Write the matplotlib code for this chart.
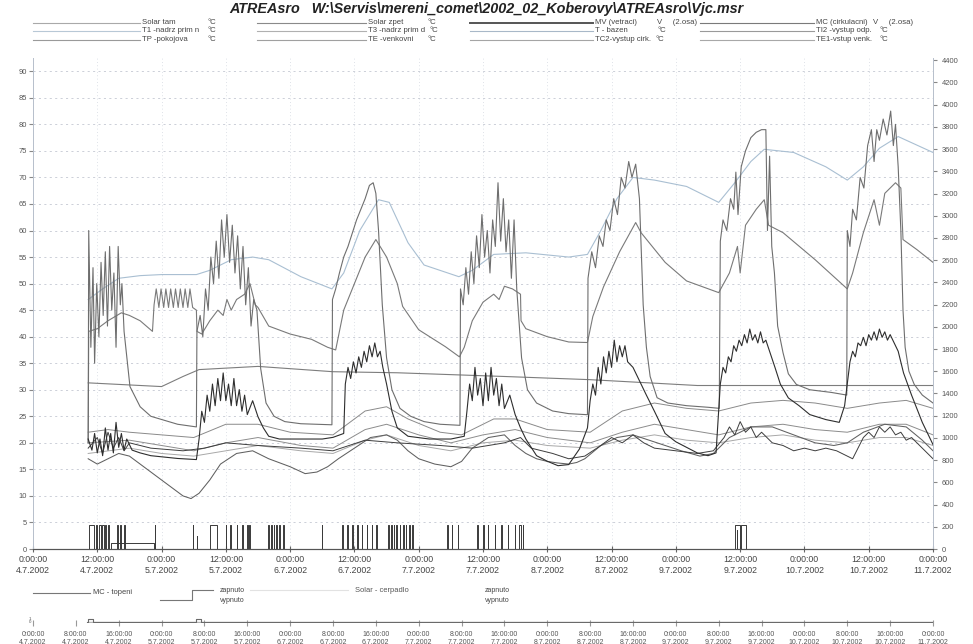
import matplotlib
matplotlib.use("Agg")
import matplotlib.pyplot as plt
from matplotlib.lines import Line2D

plt.rcParams['font.family'] = ['Liberation Sans', 'DejaVu Sans']

# hours since 4.7.2002 0:00
solar_tam = [(10.3, 20), (10.4, 60), (10.8, 38), (11.2, 53), (11.5, 35), (11.9, 50), (12.3, 40), (12.7, 54),
             (13.1, 44), (13.5, 56), (13.9, 42), (14.3, 57), (14.7, 45), (15.1, 52), (15.5, 38), (15.9, 57),
             (16.3, 46), (16.6, 50), (17.0, 41), (18.1, 30.6), (20.0, 26.8), (22.0, 25), (24.3, 24.3),
             (27.0, 23.5), (30.5, 23),
             (30.6, 41), (31.2, 44), (31.7, 40), (32.2, 49), (32.7, 45), (33.2, 55), (33.7, 50), (34.2, 58),
             (34.7, 51), (35.2, 62), (35.7, 55), (36.2, 63), (36.7, 54), (37.2, 61), (37.7, 52), (38.2, 59),
             (38.7, 49), (39.2, 57), (39.7, 46), (40.2, 53), (40.7, 42), (41.2, 47), (41.8, 45), (42.5, 34),
             (43.5, 27.5), (45.0, 25), (47.0, 24), (50.0, 23.6), (55.8, 23.4),
             (55.9, 47), (56.5, 49), (57.2, 52), (58.0, 55), (58.8, 57), (59.6, 59.5), (60.4, 62), (61.2, 64),
             (62.0, 66), (62.8, 68.5), (63.5, 69), (64.0, 67), (64.5, 60), (65.2, 46), (66.0, 36), (67.0, 30),
             (68.5, 26.5), (70.5, 25), (73.0, 24), (76.0, 23.5), (79.7, 23.3),
             (79.8, 49), (80.3, 46), (80.8, 53), (81.3, 48), (81.8, 56), (82.3, 50), (82.8, 59), (83.3, 53),
             (83.8, 63), (84.3, 55), (84.8, 60), (85.3, 52), (85.8, 62), (86.3, 57), (86.8, 69), (87.3, 58),
             (87.8, 66), (88.3, 56), (88.8, 62), (89.3, 51), (89.8, 62), (90.3, 49), (91.2, 36), (92.3, 30),
             (94.0, 27.5), (97.0, 26), (100.0, 25.5), (103.5, 25.3),
             (103.6, 51), (104.3, 56), (105.0, 53), (105.7, 59), (106.4, 57), (107.0, 62), (107.7, 60),
             (108.4, 66), (109.1, 63), (109.8, 70), (110.5, 68), (111.2, 73), (111.8, 70), (112.5, 72.5),
             (113.2, 66), (113.9, 46), (114.5, 38), (115.2, 32.5), (116.5, 28.5), (118.5, 27.5), (122.0, 27),
             (126.0, 26.7), (128.1, 26.5),
             (128.3, 58), (128.8, 62), (129.5, 60), (130.2, 66), (130.8, 64), (131.2, 71), (131.6, 63),
             (132.2, 72), (133.0, 75), (134.0, 77.5), (135.0, 78.5), (136.0, 79), (136.8, 79), (137.1, 60),
             (137.5, 74), (137.9, 57), (138.4, 52), (139.0, 42), (140.0, 37), (141.0, 33), (142.5, 31),
             (145.0, 30), (149.0, 29.5), (151.9, 29),
             (152.0, 60), (152.5, 57), (153.0, 64), (153.7, 62), (154.4, 70), (155.1, 68), (155.8, 76),
             (156.5, 79), (157.0, 73), (157.5, 79), (158.0, 77), (158.7, 81), (159.4, 78), (160.1, 82.5),
             (160.6, 76), (161.0, 80), (161.5, 72), (162.0, 60), (162.4, 45), (162.8, 38), (163.5, 33.5),
             (164.5, 31), (166.0, 29), (168.0, 27.5)]

nadrz_d = [(10.3, 20), (10.4, 41), (12.0, 41.5), (14.0, 43), (16.5, 44.5), (18.0, 44), (20.0, 43), (22.3, 41),
           (22.6, 46), (23.0, 49), (23.5, 45.5), (23.9, 49), (24.4, 45.5), (24.8, 49), (25.3, 45.5), (25.7, 49),
           (26.2, 45.5), (26.6, 49), (27.1, 45.5), (27.5, 49), (28.0, 45.5), (28.4, 49), (28.9, 45.5),
           (29.3, 49), (29.8, 45.5), (30.5, 45), (30.6, 41), (31.5, 40.5), (33.0, 43), (34.5, 45), (35.5, 44),
           (36.2, 47), (37.0, 45), (38.0, 47), (39.5, 48), (40.5, 50), (41.5, 46), (42.0, 45.5), (44.0, 42),
           (48.0, 40.5), (52.0, 39.5), (55.0, 38), (56.5, 37.5), (58.0, 45), (60.0, 50), (62.0, 55),
           (64.0, 58.3), (66.0, 55), (68.0, 50), (69.0, 45.7), (72.0, 41.3), (77.0, 38.1), (79.6, 36.2),
           (80.5, 38), (82.0, 43), (84.0, 46.5), (86.0, 48), (87.0, 47), (88.0, 49.5), (89.5, 49), (91.0, 48),
           (91.1, 43), (92.0, 41.5), (96.0, 40), (100.0, 39), (103.5, 38.9), (104.5, 43.8), (106.5, 49.4),
           (109.5, 56), (112.5, 61.5), (113.5, 59.6), (118.0, 54), (122.0, 50.5), (128.0, 48.3), (130.0, 52),
           (131.5, 57), (132.0, 52), (133.0, 61), (135.0, 64), (136.5, 65.8), (137.3, 61), (140.0, 59.6),
           (146.0, 54.5), (152.0, 49), (153.0, 52), (155.0, 59.6), (157.0, 65.8), (158.0, 61), (159.0, 67),
           (161.0, 69), (162.0, 68), (162.4, 58.3), (165.0, 56.4), (168.0, 54)]

nadrz_n = [(10.3, 47), (13, 49), (16, 51), (20, 51.5), (24, 51.7), (30.5, 51.7), (33, 52.5), (37, 54.5),
           (41, 55), (44, 54.5), (50, 51.3), (55.8, 49), (58, 52), (61, 60), (64.5, 65.8), (66.5, 65.3),
           (70, 57.7), (73, 53.5), (79.5, 51.3), (82, 52.5), (86, 55.5), (92, 55.8), (100, 55), (103.5, 55.5),
           (106, 60), (109, 66), (112, 70), (116, 69.5), (122, 68.3), (128, 65.3), (131, 69), (134, 73),
           (136.5, 75.3), (142, 74.7), (148, 72), (152, 69.5), (155, 72), (158, 75.5), (161.5, 77.7),
           (168, 74.7)]

bazen = [(10.3, 31.3), (24, 30.6), (28, 32.5), (31, 33.8), (42, 34.4), (56, 33.4), (68, 33.2), (88, 32.5),
         (104, 31.9), (124, 30.8), (168, 30.8)]

# MC (cirkulacni) in mV, 2nd axis
mc_cirk = [(10.3, 990), (11.0, 890), (11.5, 1040), (12.0, 865), (12.5, 990), (13.0, 840), (13.5, 1090),
           (14.0, 890), (14.5, 1040), (15.0, 865), (15.5, 1140), (16.0, 915), (16.5, 1040), (17.0, 890),
           (17.5, 990), (18.5, 890), (20.0, 865), (22.0, 840), (24.0, 830), (27.0, 815), (30.5, 805),
           (31.0, 990), (31.5, 1240), (32.0, 1140), (32.5, 1385), (33.0, 1240), (33.5, 1485), (34.0, 1290),
           (34.5, 1535), (35.0, 1335), (35.5, 1585), (36.0, 1335), (36.5, 1485), (37.0, 1290), (37.5, 1535),
           (38.0, 1290), (38.5, 1435), (39.0, 1240), (39.5, 1385), (40.0, 1210), (41.0, 1335), (42.0, 1190),
           (43.0, 1090), (44.0, 1015), (46.0, 990), (50.0, 990), (54.0, 990), (56.0, 1005), (58.0, 1040),
           (58.3, 1485), (58.8, 1635), (59.3, 1535), (59.8, 1685), (60.3, 1585), (60.8, 1730), (61.3, 1635),
           (61.8, 1780), (62.3, 1685), (62.8, 1830), (63.3, 1730), (63.8, 1855), (64.3, 1730), (64.8, 1780),
           (65.3, 1635), (66.0, 1485), (67.0, 1240), (68.0, 1090), (70.0, 1015), (74.0, 990), (78.0, 990),
           (80.5, 1015), (81.0, 1240), (81.5, 1485), (82.0, 1335), (82.5, 1635), (83.0, 1385), (83.5, 1535),
           (84.0, 1290), (84.5, 1585), (85.0, 1335), (85.5, 1635), (86.0, 1385), (86.5, 1535), (87.0, 1290),
           (87.5, 1485), (88.0, 1265), (89.0, 1385), (90.0, 1210), (91.0, 1090), (92.0, 990), (94.0, 840),
           (96.0, 790), (98.0, 750), (100.0, 760), (102.0, 900), (103.5, 1090), (104.0, 1335), (104.5, 1485),
           (105.0, 1385), (105.5, 1635), (106.0, 1485), (106.5, 1730), (107.0, 1585), (107.5, 1780),
           (108.0, 1635), (108.5, 1880), (109.0, 1685), (109.5, 1830), (110.0, 1730), (110.5, 1830),
           (111.0, 1685), (112.0, 1635), (113.0, 1535), (114.5, 1385), (116.0, 1240), (118.0, 1040),
           (120.0, 965), (122.0, 915), (124.0, 865), (126.0, 840), (127.5, 865), (128.3, 1485), (128.8, 1635),
           (129.3, 1585), (129.8, 1730), (130.3, 1685), (130.8, 1830), (131.3, 1780), (131.8, 1880),
           (132.3, 1830), (132.8, 1930), (133.3, 1855), (133.8, 1980), (134.3, 1880), (134.8, 1930),
           (135.3, 1855), (135.8, 1955), (136.3, 1855), (136.8, 1880), (137.5, 1780), (138.5, 1635),
           (139.5, 1485), (141.0, 1360), (143.0, 1290), (145.0, 1210), (148.0, 1165), (150.5, 1140),
           (151.5, 1290), (152.5, 1685), (153.0, 1780), (153.5, 1730), (154.0, 1855), (154.5, 1830),
           (155.0, 1905), (155.5, 1830), (156.0, 1930), (156.5, 1880), (157.0, 1955), (157.5, 1880),
           (158.0, 1980), (158.5, 1905), (159.0, 1955), (159.5, 1880), (160.0, 1930), (160.5, 1880),
           (161.0, 1830), (161.5, 1780), (162.5, 1585), (164.0, 1385), (166.0, 1140), (168.0, 940)]

venkovni = [(10.3, 17), (12, 16), (14, 17), (16, 18), (18, 17.5), (20, 16), (22, 14.5), (24, 13), (26, 11.5),
            (28, 10), (29.5, 9.5), (31, 10.5), (33, 13), (35, 16), (38, 18), (41, 18.5), (44, 17), (48, 15.5),
            (50.8, 14.2), (53, 14.5), (55, 15.5), (57, 17), (60, 19), (63, 21), (66, 21.5), (68, 20.5),
            (70, 18.5), (72, 17), (75, 16), (78, 15.5), (80, 16.5), (82, 19), (85, 21), (88, 21.5), (90, 19.5),
            (92, 18), (94, 17), (96, 16.5), (98, 16.2), (100, 16), (101.5, 16.3), (103, 17), (106, 19.5),
            (109, 21), (112, 21.5), (115, 20.5), (118, 19.5), (121, 18.5), (124.5, 17.5), (127, 18), (130, 21),
            (134, 23), (138, 23), (142, 21.5), (146, 20), (149.5, 19.5), (152, 20), (155, 22), (159, 23.5),
            (163, 23), (166, 20.5), (168, 18.5)]

vystup_cirk = [(10.3, 22), (14, 22.5), (18, 22), (24, 21.5), (30, 21), (36, 23.5), (42, 23.5), (48, 22),
               (56, 21.5), (62, 26), (66, 26.8), (70, 24.5), (76, 22), (80, 21.5), (86, 24.5), (90, 24.5),
               (96, 22.5), (104, 22), (110, 26), (116, 27.5), (122, 26.5), (128, 26), (134, 27.5), (140, 28),
               (146, 27.5), (152, 26.5), (158, 27.5), (163, 28), (168, 26.5)]

vystup_odp = [(10.3, 20), (18, 20.5), (24, 19.5), (30, 18.5), (36, 20), (42, 21), (50, 19.5), (56, 19),
              (62, 22.5), (66, 23.5), (72, 21.5), (78, 20), (84, 21.5), (90, 22.5), (96, 21), (104, 20),
              (110, 22), (116, 23.5), (122, 22.5), (128, 21.5), (134, 23), (140, 23.5), (146, 22.5), (152, 22),
              (158, 23.5), (163, 23.5), (168, 21.5)]

vstup_venk = [(10.3, 18), (18, 19), (24, 18), (30, 17.5), (36, 18.5), (42, 19.5), (50, 18.5), (56, 18),
              (62, 20.5), (66, 21.5), (72, 19.5), (78, 18.5), (84, 20), (90, 20.5), (96, 19.5), (104, 19),
              (110, 20.5), (116, 21.5), (122, 20.5), (128, 20), (134, 21), (140, 21.5), (146, 20.5), (152, 20),
              (158, 21), (163, 21), (168, 19.5)]

pokojova = [(10.3, 19), (12, 21), (13, 18), (14, 22), (15, 19), (16, 21), (17, 18.5), (18, 20), (22, 19),
            (28, 18.5), (32, 19), (36, 20), (42, 19.5), (50, 19), (56, 18.5), (62, 20.5), (68, 20), (76, 19.5),
            (82, 19), (88, 20), (91, 21), (93, 19), (95, 18.5), (97, 18), (100, 17), (103, 17.5), (106, 19.5),
            (108, 21), (110, 20), (112, 21.5), (114, 20), (116, 19), (120, 18.5), (124, 18), (127, 18.5),
            (129, 21), (130, 23), (131, 21.5), (132, 24), (133, 22), (134, 23), (135, 21), (136, 22), (138, 20),
            (140, 19.5), (142, 18.5), (144, 19), (146, 18.5), (148, 19), (150, 18.5), (152, 17.5), (153, 17),
            (154, 19), (155, 21), (156, 22), (157, 21), (158, 23), (159, 22), (160, 23), (161, 21.5), (162, 22),
            (163, 20.5), (164, 21), (165, 20), (166, 19), (168, 17)]

# pump pulses: (start h, end h, level)
pulses = [(10.4, 11.3, 4.5), (11.8, 12.0, 4.5), (12.3, 12.6, 4.5), (12.8, 13.3, 4.5), (13.5, 13.6, 4.5),
          (14.0, 14.2, 4.5), (14.6, 22.6, 1.2), (15.6, 15.8, 4.5), (16.3, 16.4, 4.5), (17.0, 17.1, 4.5),
          (22.7, 22.8, 4.5), (29.8, 29.9, 4.5), (30.6, 30.7, 2.5), (33.0, 34.3, 4.5), (36.0, 36.1, 4.5),
          (36.8, 36.9, 4.5), (38.0, 38.1, 4.5), (39.1, 39.2, 4.5), (40.0, 40.1, 4.5), (40.4, 40.5, 4.5),
          (43.9, 44.1, 4.5), (44.4, 44.6, 4.5), (44.9, 45.0, 4.5), (45.3, 45.5, 4.5), (46.0, 46.1, 4.5),
          (46.6, 46.8, 4.5), (53.9, 54.0, 4.5), (57.7, 57.8, 4.5), (58.7, 58.8, 4.5), (59.6, 59.7, 4.5),
          (60.5, 60.6, 4.5), (61.4, 61.5, 4.5), (62.3, 62.4, 4.5), (63.2, 63.3, 4.5), (64.1, 64.2, 4.5),
          (66.3, 66.4, 4.5), (66.8, 67.0, 4.5), (67.3, 67.4, 4.5), (67.8, 68.0, 4.5), (68.5, 68.6, 4.5),
          (69.0, 69.2, 4.5), (69.6, 69.7, 4.5), (70.2, 70.3, 4.5), (70.7, 70.9, 4.5), (77.3, 77.4, 4.5),
          (78.2, 78.3, 4.5), (79.3, 79.4, 4.5), (82.9, 83.0, 4.5), (84.0, 84.1, 4.5), (84.9, 85.0, 4.5),
          (86.2, 86.3, 4.5), (87.4, 87.5, 4.5), (88.6, 88.7, 4.5), (89.9, 90.0, 4.5), (90.8, 91.0, 4.5),
          (91.4, 91.5, 4.5), (131.0, 132.0, 4.5), (131.4, 131.5, 3.5), (132.1, 133.1, 4.5)]

mc_topeni_on = [(10.3, 11.2), (30.4, 31.3)]

x_ticks_main = list(range(0, 169, 12))
x_ticks_low = list(range(0, 169, 8))
y_ticks_left = list(range(0, 91, 5))
y_ticks_right = list(range(0, 4401, 200))

legend_rows = [
    [("Solar tam", "°C", 208, "#a9a9a9"), ("Solar zpet", "°C", 427, "#8a8a8a"),
     ("MV (vetraci)", "V     (2.osa)", 657, "#555555"), ("MC (cirkulacni)", "V     (2.osa)", 873, "#7a7a7a")],
    [("T1 -nadrz prim n", "°C", 208, "#b8c8d6"), ("T3 -nadrz prim d", "°C", 430, "#b0b0b0"),
     ("T - bazen", "°C", 657, "#a8b8c8"), ("TI2 -vystup odp.", "°C", 880, "#9a9a9a")],
    [("TP -pokojova", "°C", 208, "#9a9a9a"), ("TE -venkovni", "°C", 427, "#a0a0a0"),
     ("TC2-vystup cirk.", "°C", 655, "#a5a5a5"), ("TE1-vstup venk.", "°C", 880, "#a8a8a8")],
]
legend_cols = [(33, 140), (257, 366), (470, 593), (700, 814)]


def unzip(pairs):
    return [p[0] for p in pairs], [p[1] for p in pairs]


def tick_label(h):
    return f"{h % 24}:00:00\n{4 + h // 24}.7.2002"


W, H = 973, 644
fig = plt.figure(figsize=(W / 100, H / 100), dpi=100)


def fx(px):
    return px / W


def fy(py):
    return 1 - py / H


ax = fig.add_axes([fx(33), fy(549), fx(900), (549 - 58) / H])
ax2 = ax.twinx()

for data, col, lw in [
        (bazen, "#7d7d7d", 0.8),
        (vstup_venk, "#a8a8a8", 0.7),
        (vystup_odp, "#8c8c8c", 0.7),
        (vystup_cirk, "#8a8a8a", 0.7),
        (venkovni, "#606060", 0.75),
        (pokojova, "#3d3d3d", 0.7),
        (nadrz_n, "#a9bfd2", 0.8),
        (nadrz_d, "#7a7a7a", 0.8),
        (solar_tam, "#6e6e6e", 0.8)]:
    hx, hv = unzip(data)
    ax.plot(hx, hv, color=col, lw=lw)

px, py = [10.3], [0]
for s, e, lev in pulses:
    px += [s, s, e, e]
    py += [0, lev, lev, 0]
px.append(92)
py.append(0)
ax.plot(px, py, color="#3a3a3a", lw=0.7)

hx, hv = unzip(mc_cirk)
ax2.plot(hx, hv, color="#2e2e2e", lw=0.8)

ax.set_xlim(0, 168)
ax.set_ylim(0, 92.5)
ax2.set_ylim(0, 4420)
ax.set_yticks(y_ticks_left)
ax2.set_yticks(y_ticks_right)
ax.set_xticks(x_ticks_main)
ax.set_xticklabels([tick_label(h) for h in x_ticks_main], fontsize=6.3, color="#444444", linespacing=1.25)
ax.tick_params(axis="y", labelsize=5.4, labelcolor="#555555", length=3, color="#888888", pad=1.5)
ax2.tick_params(axis="y", labelsize=5.4, labelcolor="#555555", length=3, color="#888888", pad=3)
ax.tick_params(axis="x", direction="inout", length=5, color="#666666", pad=2)
ax.grid(axis="y", color="#c4c8d2", lw=0.6, ls=(0, (2.5, 4)))
ax.grid(axis="x", color="#d4d8e0", lw=0.6, ls=(0, (1, 3)))
for a in (ax, ax2):
    a.spines["top"].set_visible(False)
    a.spines["left"].set_color("#b8c0cc")
    a.spines["right"].set_color("#b8c0cc")
    a.spines["bottom"].set_color("#555555")
    a.spines["left"].set_linewidth(0.7)
    a.spines["right"].set_linewidth(0.7)
    a.spines["bottom"].set_linewidth(0.8)

# title and legend
fig.text(0.5, fy(9), "ATREAsro   W:\\Servis\\mereni_comet\\2002_02_Koberovy\\ATREAsro\\Vjc.msr",
         ha="center", va="center", fontsize=10.4, fontweight="bold", fontstyle="italic", color="#222222")
for r, row in enumerate(legend_rows):
    yy = fy(22.5 + 8.5 * r)
    for c, (lab, unit, ux, col) in enumerate(row):
        x0, x1 = legend_cols[c]
        fig.add_artist(Line2D([fx(x0), fx(x1)], [yy, yy], color=col,
                              lw=1.4 if (r, c) == (0, 2) else 0.8))
        fig.text(fx(x1 + 2), yy, lab, fontsize=5.6, va="center", color="#444444")
        fig.text(fx(ux), yy, unit, fontsize=5.6, va="center", color="#444444")

# lower panel: on/off signals
axb = fig.add_axes([fx(33), fy(623), fx(900), 14 / H])
axb.plot([10.3, 168], [0, 0], color="#b5b5b5", lw=1.0)
bx, by = [10.0], [0]
for s, e in mc_topeni_on:
    bx += [s, s, e, e]
    by += [0, 1, 1, 0]
bx.append(168)
by.append(0)
axb.plot(bx, by, color="#6a6a6a", lw=0.8)
axb.set_xlim(0, 168)
axb.set_ylim(-0.4, 4)
axb.set_xticks(x_ticks_low)
axb.set_xticklabels([tick_label(h) for h in x_ticks_low], fontsize=5.0, color="#555555", linespacing=1.1)
axb.set_yticks([0, 1])
axb.set_yticklabels(["0", "1"], fontsize=3.2, color="#555555")
axb.tick_params(axis="x", direction="inout", length=5, color="#999999", pad=3.5)
axb.tick_params(axis="y", length=0, pad=1)
for s in ("top", "right", "left", "bottom"):
    axb.spines[s].set_visible(False)

fig.add_artist(Line2D([fx(33), fx(90)], [fy(593), fy(593)], color="#777777", lw=0.8))
fig.text(fx(93), fy(593), "MC - topeni", fontsize=5.4, va="center", color="#444444")
fig.add_artist(Line2D([fx(160), fx(192), fx(192), fx(213)], [fy(600), fy(600), fy(590), fy(590)],
                      color="#777777", lw=0.8))
fig.text(fx(220), fy(590), "zapnuto", fontsize=5.0, va="center", color="#444444")
fig.text(fx(220), fy(601), "vypnuto", fontsize=5.0, va="center", color="#444444")
fig.add_artist(Line2D([fx(250), fx(348)], [fy(590), fy(590)], color="#e2e2e2", lw=0.8))
fig.text(fx(355), fy(590), "Solar - cerpadlo", fontsize=5.4, va="center", color="#555555")
fig.text(fx(485), fy(590), "zapnuto", fontsize=5.0, va="center", color="#444444")
fig.text(fx(485), fy(601), "vypnuto", fontsize=5.0, va="center", color="#444444")

fig.savefig("out.png", dpi=100, facecolor="white")
